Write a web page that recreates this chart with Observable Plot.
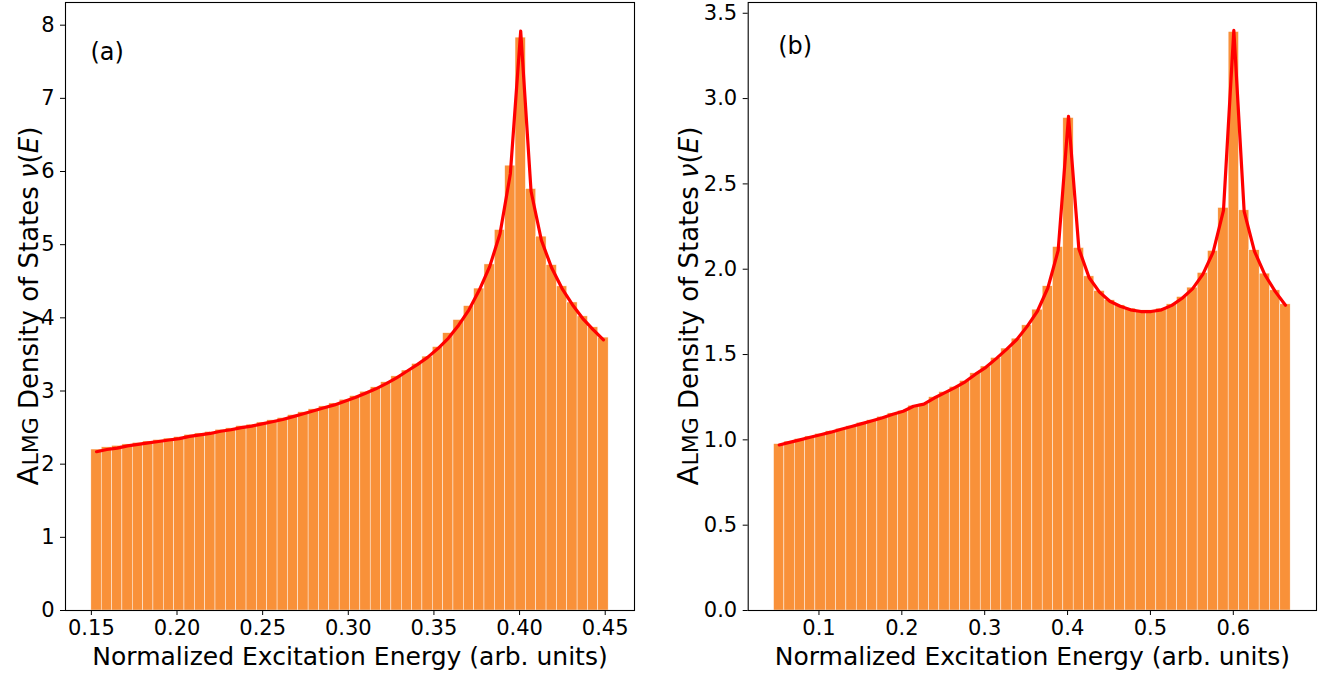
<!DOCTYPE html>
<html>
<head>
<meta charset="utf-8">
<script src="https://cdn.jsdelivr.net/npm/d3@7"></script>
<script src="https://cdn.jsdelivr.net/npm/@observablehq/plot@0.6"></script>
<style>
  html, body { margin: 0; padding: 0; background: #fff; }
  #wrap { position: relative; width: 1333px; height: 676px; font-family: "DejaVu Sans", sans-serif; }
  #wrap > div { position: absolute; top: 0; }
</style>
</head>
<body>
<div id="wrap"><div id="pa"></div><div id="pb"></div></div>
<script>
// ---------- Panel (a) data ----------
const binStartA = 0.15;
const binWidthA = 0.00604;
const barsA = [
  2.20, 2.23, 2.25, 2.27, 2.29, 2.31, 2.33, 2.35, 2.37, 2.40,
  2.42, 2.44, 2.47, 2.49, 2.52, 2.54, 2.57, 2.60, 2.63, 2.67,
  2.71, 2.75, 2.79, 2.83, 2.88, 2.93, 2.99, 3.05, 3.12, 3.20,
  3.28, 3.37, 3.47, 3.60, 3.79, 3.97, 4.16, 4.40, 4.73, 5.20,
  6.08, 7.83, 5.76, 5.11, 4.72, 4.43, 4.21, 4.02, 3.87, 3.73
];
const curveA = [
  2.17, 2.20, 2.22, 2.25, 2.27, 2.29, 2.31, 2.33, 2.35, 2.38,
  2.40, 2.42, 2.45, 2.47, 2.50, 2.52, 2.55, 2.58, 2.61, 2.65,
  2.69, 2.73, 2.77, 2.81, 2.86, 2.91, 2.97, 3.03, 3.10, 3.18,
  3.27, 3.36, 3.46, 3.58, 3.72, 3.90, 4.11, 4.38, 4.70, 5.15,
  5.97, 7.92, 5.73, 5.06, 4.68, 4.40, 4.18, 3.99, 3.84, 3.70
];
const xTicksA = [0.15, 0.20, 0.25, 0.30, 0.35, 0.40, 0.45];
const yTicksA = [0, 1, 2, 3, 4, 5, 6, 7, 8];

// ---------- Panel (b) data ----------
const binStartB = 0.0458;
const binWidthB = 0.012468;
const barsB = [
  0.975, 0.990, 1.005, 1.020, 1.035, 1.050, 1.065, 1.080, 1.100, 1.115,
  1.135, 1.155, 1.170, 1.200, 1.210, 1.250, 1.280, 1.310, 1.345, 1.390,
  1.430, 1.480, 1.535, 1.593, 1.671, 1.763, 1.900, 2.130, 2.886, 2.124,
  1.958, 1.872, 1.818, 1.788, 1.769, 1.759, 1.759, 1.769, 1.794, 1.837,
  1.892, 1.978, 2.107, 2.359, 3.390, 2.345, 2.111, 1.974, 1.876, 1.794
];
const curveB = [
  0.970, 0.985, 1.000, 1.015, 1.030, 1.045, 1.062, 1.078, 1.095, 1.112,
  1.130, 1.150, 1.168, 1.197, 1.209, 1.245, 1.275, 1.306, 1.340, 1.385,
  1.425, 1.476, 1.530, 1.588, 1.665, 1.755, 1.890, 2.110, 2.896, 2.120,
  1.950, 1.866, 1.812, 1.783, 1.762, 1.752, 1.752, 1.762, 1.788, 1.830,
  1.885, 1.970, 2.100, 2.345, 3.400, 2.339, 2.105, 1.968, 1.870, 1.789
];
const xTicksB = [0.1, 0.2, 0.3, 0.4, 0.5, 0.6];
const yTicksB = [0.0, 0.5, 1.0, 1.5, 2.0, 2.5, 3.0, 3.5];

const BAR_FILL = "#f99139";
const FONT = "DejaVu Sans";

function bins(start, width, values) {
  return values.map((v, i) => ({x1: start + i * width, x2: start + (i + 1) * width, y: v}));
}
function pts(start, width, values) {
  return values.map((v, i) => ({x: start + (i + 0.5) * width, y: v}));
}

function panel(opts) {
  const svg = Plot.plot({
    width: opts.width,
    height: 676,
    marginLeft: opts.ml,
    marginRight: opts.mr,
    marginTop: 2,
    marginBottom: 66,
    style: {fontFamily: FONT, background: "white", color: "black"},
    x: {domain: opts.xDomain},
    y: {domain: opts.yDomain},
    marks: [
      Plot.rectY(opts.bars, {x1: "x1", x2: "x2", y: "y", fill: BAR_FILL, stroke: "white", strokeWidth: 0.45}),
      Plot.line(opts.curve, {x: "x", y: "y", stroke: "red", strokeWidth: 3.2, strokeLinejoin: "round", strokeLinecap: "round"}),
      Plot.frame({stroke: "black", strokeWidth: 1.1}),
      Plot.axisX({ticks: opts.xTicks, tickFormat: opts.xFmt, tickSize: 5, tickPadding: 5, fontSize: 21, label: null}),
      Plot.axisY({ticks: opts.yTicks, tickFormat: opts.yFmt, tickSize: 5, tickPadding: 6, fontSize: 21, label: null}),
      Plot.text([opts.tag], {frameAnchor: "top-left", dx: opts.tagDx, dy: opts.tagDy, fontSize: 24, textAnchor: "start"}),
      Plot.text(["Normalized Excitation Energy (arb. units)"], {frameAnchor: "bottom", dy: 54, fontSize: 25})
    ]
  });
  const plotTop = 2, plotBottom = 676 - 66;
  const cy = (plotTop + plotBottom) / 2;
  const t = d3.select(svg).append("text")
    .attr("transform", `translate(${opts.ylabX},${cy}) rotate(-90)`)
    .attr("text-anchor", "middle")
    .attr("font-family", FONT)
    .attr("font-size", 26)
    .attr("fill", "black");
  t.append("tspan").attr("font-size", 29).text("A");
  t.append("tspan").attr("font-size", 22).text("LMG");
  t.append("tspan").text(" Density of States ");
  t.append("tspan").attr("font-style", "italic").text("ν");
  t.append("tspan").text("(");
  t.append("tspan").attr("font-style", "italic").text("E");
  t.append("tspan").text(")");
  return svg;
}

const svgA = panel({
  width: 660, ml: 65, mr: 26,
  xDomain: [0.1349, 0.4671], yDomain: [0, 8.31],
  bars: bins(binStartA, binWidthA, barsA), curve: pts(binStartA, binWidthA, curveA),
  xTicks: xTicksA, yTicks: yTicksA, xFmt: d3.format(".2f"), yFmt: d3.format("d"),
  tag: "(a)", tagDx: 25, tagDy: 40, ylabX: 38
});
const svgB = panel({
  width: 673, ml: 87.7, mr: 17,
  xDomain: [0.0146, 0.7004], yDomain: [0, 3.563],
  bars: bins(binStartB, binWidthB, barsB), curve: pts(binStartB, binWidthB, curveB),
  xTicks: xTicksB, yTicks: yTicksB, xFmt: d3.format(".1f"), yFmt: d3.format(".1f"),
  tag: "(b)", tagDx: 30, tagDy: 34, ylabX: 38
});
const pa = document.getElementById("pa");
const pb = document.getElementById("pb");
pa.style.left = "0px";
pb.style.left = "660px";
pa.appendChild(svgA);
pb.appendChild(svgB);
</script>
</body>
</html>
